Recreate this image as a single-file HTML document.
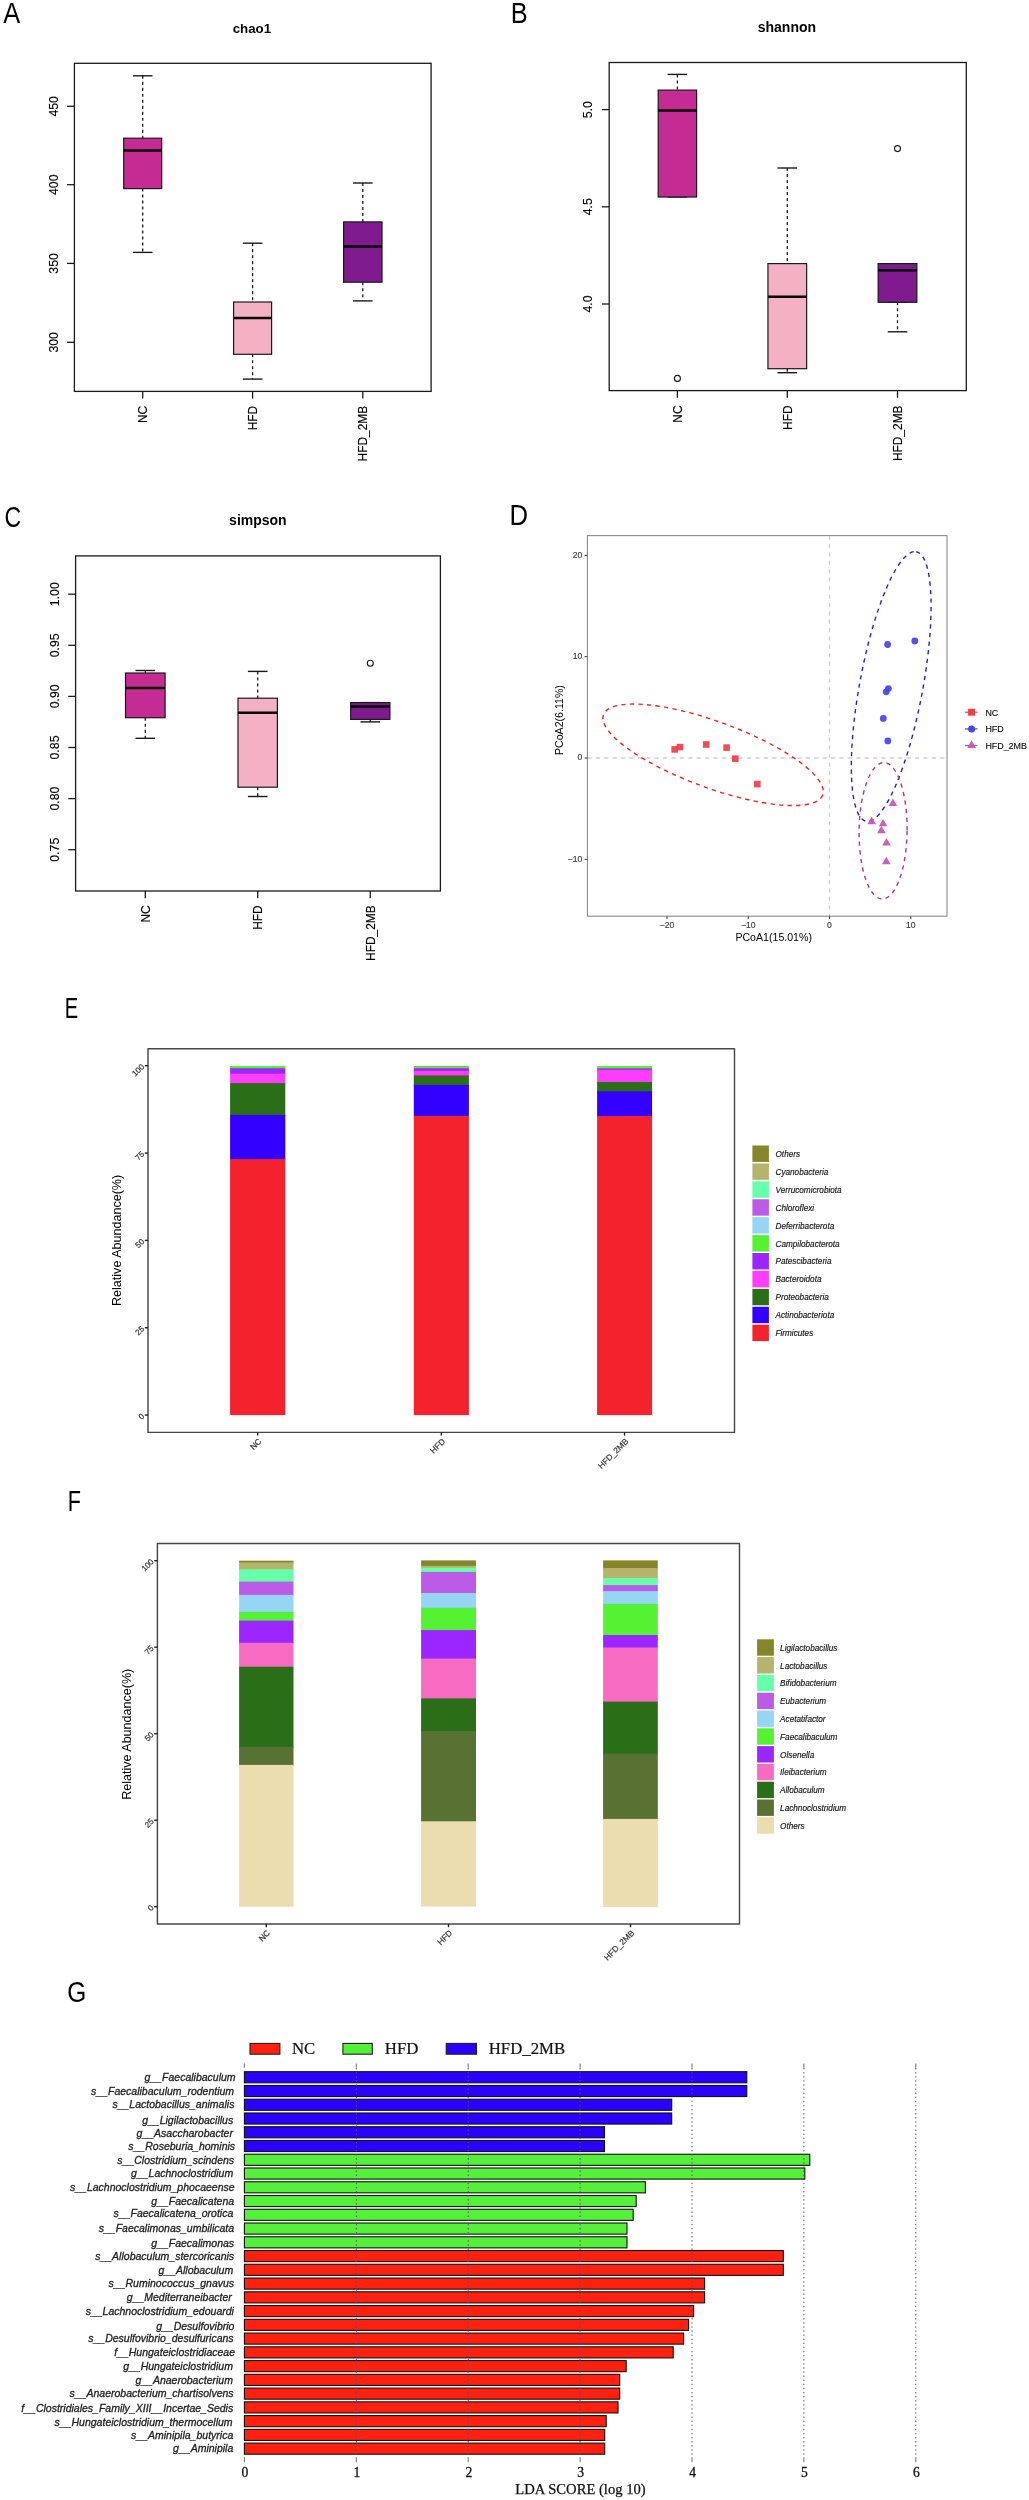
<!DOCTYPE html>
<html><head><meta charset="utf-8"><title>Figure</title><style>
html,body{margin:0;padding:0;background:#fff;width:1029px;height:2500px;overflow:hidden;}
svg{display:block;will-change:transform;}
text{font-family:"Liberation Sans",sans-serif;}
</style></head><body>
<svg width="1029" height="2500" viewBox="0 0 1029 2500">
<rect x="0" y="0" width="1029" height="2500" fill="#fff"/>
<text transform="translate(3.2 22.6) scale(0.88 1)" x="0" y="0" style="font-size:28.8px">A</text>
<text transform="translate(510.64 22.6) scale(0.88 1)" x="0" y="0" style="font-size:28.8px">B</text>
<text transform="translate(4.4 526.6) scale(0.8 1)" x="0" y="0" style="font-size:28.8px">C</text>
<text transform="translate(509.62 525) scale(0.89 1)" x="0" y="0" style="font-size:28.8px">D</text>
<text transform="translate(64.8 1017.9) scale(0.7 1)" x="0" y="0" style="font-size:28.8px">E</text>
<text transform="translate(67.8 1511.1) scale(0.75 1)" x="0" y="0" style="font-size:28.8px">F</text>
<text transform="translate(67.25 2001.8) scale(0.85 1)" x="0" y="0" style="font-size:28.8px">G</text>
<text x="251.9" y="32.9"  text-anchor="middle" style="font-size:13.3px;font-weight:bold">chao1</text>
<rect x="74.4" y="63.3" width="356.7" height="328.1" fill="none" stroke="#1a1a1a" stroke-width="1.3"/>
<line x1="67.1" y1="106.3" x2="74.4" y2="106.3" stroke="#1a1a1a" stroke-width="1.3"/>
<text x="0" y="0" transform="translate(57.9 106.3) rotate(-90)" text-anchor="middle" style="font-size:12.3px" stroke="#000" stroke-width="0.15">450</text>
<line x1="67.1" y1="184.7" x2="74.4" y2="184.7" stroke="#1a1a1a" stroke-width="1.3"/>
<text x="0" y="0" transform="translate(57.9 184.7) rotate(-90)" text-anchor="middle" style="font-size:12.3px" stroke="#000" stroke-width="0.15">400</text>
<line x1="67.1" y1="263.4" x2="74.4" y2="263.4" stroke="#1a1a1a" stroke-width="1.3"/>
<text x="0" y="0" transform="translate(57.9 263.4) rotate(-90)" text-anchor="middle" style="font-size:12.3px" stroke="#000" stroke-width="0.15">350</text>
<line x1="67.1" y1="342.3" x2="74.4" y2="342.3" stroke="#1a1a1a" stroke-width="1.3"/>
<text x="0" y="0" transform="translate(57.9 342.3) rotate(-90)" text-anchor="middle" style="font-size:12.3px" stroke="#000" stroke-width="0.15">300</text>
<line x1="142.7" y1="391.4" x2="142.7" y2="398.6" stroke="#1a1a1a" stroke-width="1.3"/>
<text transform="translate(142.7 405.9) rotate(-90)" x="0" y="4.3" text-anchor="end" stroke="#000" stroke-width="0.15" style="font-size:11.9px">NC</text>
<line x1="252.6" y1="391.4" x2="252.6" y2="398.6" stroke="#1a1a1a" stroke-width="1.3"/>
<text transform="translate(252.6 405.9) rotate(-90)" x="0" y="4.3" text-anchor="end" stroke="#000" stroke-width="0.15" style="font-size:11.9px">HFD</text>
<line x1="362.8" y1="391.4" x2="362.8" y2="398.6" stroke="#1a1a1a" stroke-width="1.3"/>
<text transform="translate(362.8 405.9) rotate(-90)" x="0" y="4.3" text-anchor="end" stroke="#000" stroke-width="0.15" style="font-size:11.9px">HFD_2MB</text>
<line x1="142.7" y1="75.8" x2="142.7" y2="138.2" stroke="#1a1a1a" stroke-width="1.3" stroke-dasharray="3 3"/>
<line x1="142.7" y1="188.6" x2="142.7" y2="252.4" stroke="#1a1a1a" stroke-width="1.3" stroke-dasharray="3 3"/>
<line x1="132.9" y1="75.8" x2="152.5" y2="75.8" stroke="#1a1a1a" stroke-width="1.4"/>
<line x1="132.9" y1="252.4" x2="152.5" y2="252.4" stroke="#1a1a1a" stroke-width="1.4"/>
<rect x="123.7" y="138.2" width="38" height="50.4" fill="#C52C93" stroke="#1a1a1a" stroke-width="1.2"/>
<line x1="123.7" y1="150.4" x2="161.7" y2="150.4" stroke="#000" stroke-width="2.5"/>
<line x1="252.6" y1="243.2" x2="252.6" y2="302" stroke="#1a1a1a" stroke-width="1.3" stroke-dasharray="3 3"/>
<line x1="252.6" y1="354.3" x2="252.6" y2="379.1" stroke="#1a1a1a" stroke-width="1.3" stroke-dasharray="3 3"/>
<line x1="242.8" y1="243.2" x2="262.4" y2="243.2" stroke="#1a1a1a" stroke-width="1.4"/>
<line x1="242.8" y1="379.1" x2="262.4" y2="379.1" stroke="#1a1a1a" stroke-width="1.4"/>
<rect x="233.6" y="302" width="38" height="52.3" fill="#F4B1C3" stroke="#1a1a1a" stroke-width="1.2"/>
<line x1="233.6" y1="318.1" x2="271.6" y2="318.1" stroke="#000" stroke-width="2.5"/>
<line x1="362.8" y1="183" x2="362.8" y2="221.9" stroke="#1a1a1a" stroke-width="1.3" stroke-dasharray="3 3"/>
<line x1="362.8" y1="282.2" x2="362.8" y2="300.9" stroke="#1a1a1a" stroke-width="1.3" stroke-dasharray="3 3"/>
<line x1="353" y1="183" x2="372.6" y2="183" stroke="#1a1a1a" stroke-width="1.4"/>
<line x1="353" y1="300.9" x2="372.6" y2="300.9" stroke="#1a1a1a" stroke-width="1.4"/>
<rect x="343.6" y="221.9" width="38.4" height="60.3" fill="#7F1B8F" stroke="#1a1a1a" stroke-width="1.2"/>
<line x1="343.6" y1="246.6" x2="382" y2="246.6" stroke="#000" stroke-width="2.5"/>
<text x="786.9" y="32.1"  text-anchor="middle" style="font-size:14px;font-weight:bold">shannon</text>
<rect x="609.2" y="62.5" width="357.1" height="328.1" fill="none" stroke="#1a1a1a" stroke-width="1.3"/>
<line x1="601.9" y1="109.6" x2="609.2" y2="109.6" stroke="#1a1a1a" stroke-width="1.3"/>
<text x="0" y="0" transform="translate(592.3 109.6) rotate(-90)" text-anchor="middle" style="font-size:12.3px" stroke="#000" stroke-width="0.15">5.0</text>
<line x1="601.9" y1="206.8" x2="609.2" y2="206.8" stroke="#1a1a1a" stroke-width="1.3"/>
<text x="0" y="0" transform="translate(592.3 206.8) rotate(-90)" text-anchor="middle" style="font-size:12.3px" stroke="#000" stroke-width="0.15">4.5</text>
<line x1="601.9" y1="304" x2="609.2" y2="304" stroke="#1a1a1a" stroke-width="1.3"/>
<text x="0" y="0" transform="translate(592.3 304) rotate(-90)" text-anchor="middle" style="font-size:12.3px" stroke="#000" stroke-width="0.15">4.0</text>
<line x1="677.4" y1="390.6" x2="677.4" y2="397.8" stroke="#1a1a1a" stroke-width="1.3"/>
<text transform="translate(677.4 405.5) rotate(-90)" x="0" y="4.3" text-anchor="end" stroke="#000" stroke-width="0.15" style="font-size:11.9px">NC</text>
<line x1="787.3" y1="390.6" x2="787.3" y2="397.8" stroke="#1a1a1a" stroke-width="1.3"/>
<text transform="translate(787.3 405.5) rotate(-90)" x="0" y="4.3" text-anchor="end" stroke="#000" stroke-width="0.15" style="font-size:11.9px">HFD</text>
<line x1="897.5" y1="390.6" x2="897.5" y2="397.8" stroke="#1a1a1a" stroke-width="1.3"/>
<text transform="translate(897.5 405.5) rotate(-90)" x="0" y="4.3" text-anchor="end" stroke="#000" stroke-width="0.15" style="font-size:11.9px">HFD_2MB</text>
<line x1="677.4" y1="74.4" x2="677.4" y2="90.1" stroke="#1a1a1a" stroke-width="1.3" stroke-dasharray="3 3"/>
<line x1="667.6" y1="74.4" x2="687.2" y2="74.4" stroke="#1a1a1a" stroke-width="1.4"/>
<line x1="667.6" y1="197" x2="687.2" y2="197" stroke="#1a1a1a" stroke-width="1.4"/>
<rect x="658.2" y="90.1" width="38.4" height="106.9" fill="#C52C93" stroke="#1a1a1a" stroke-width="1.2"/>
<line x1="658.2" y1="110.4" x2="696.6" y2="110.4" stroke="#000" stroke-width="2.5"/>
<line x1="787.3" y1="168" x2="787.3" y2="263.6" stroke="#1a1a1a" stroke-width="1.3" stroke-dasharray="3 3"/>
<line x1="787.3" y1="368.7" x2="787.3" y2="372.7" stroke="#1a1a1a" stroke-width="1.3" stroke-dasharray="3 3"/>
<line x1="777.5" y1="168" x2="797.1" y2="168" stroke="#1a1a1a" stroke-width="1.4"/>
<line x1="777.5" y1="372.7" x2="797.1" y2="372.7" stroke="#1a1a1a" stroke-width="1.4"/>
<rect x="767.95" y="263.6" width="38.7" height="105.1" fill="#F4B1C3" stroke="#1a1a1a" stroke-width="1.2"/>
<line x1="767.95" y1="296.7" x2="806.65" y2="296.7" stroke="#000" stroke-width="2.5"/>
<line x1="897.5" y1="302.3" x2="897.5" y2="331.8" stroke="#1a1a1a" stroke-width="1.3" stroke-dasharray="3 3"/>
<line x1="887.7" y1="302.3" x2="907.3" y2="302.3" stroke="#1a1a1a" stroke-width="1.4"/>
<line x1="887.7" y1="331.8" x2="907.3" y2="331.8" stroke="#1a1a1a" stroke-width="1.4"/>
<rect x="878.15" y="263.6" width="38.7" height="38.7" fill="#7F1B8F" stroke="#1a1a1a" stroke-width="1.2"/>
<line x1="878.15" y1="270.3" x2="916.85" y2="270.3" stroke="#000" stroke-width="2.5"/>
<circle cx="677.4" cy="378.4" r="3" fill="none" stroke="#1a1a1a" stroke-width="1.1"/>
<circle cx="897.5" cy="148.6" r="3" fill="none" stroke="#1a1a1a" stroke-width="1.1"/>
<text x="257.9" y="524.5"  text-anchor="middle" style="font-size:14px;font-weight:bold">simpson</text>
<rect x="75.6" y="555.9" width="364.8" height="335.1" fill="none" stroke="#1a1a1a" stroke-width="1.3"/>
<line x1="68.3" y1="594.2" x2="75.6" y2="594.2" stroke="#1a1a1a" stroke-width="1.3"/>
<text x="0" y="0" transform="translate(59.2 594.2) rotate(-90)" text-anchor="middle" style="font-size:12.3px" stroke="#000" stroke-width="0.15">1.00</text>
<line x1="68.3" y1="645.3" x2="75.6" y2="645.3" stroke="#1a1a1a" stroke-width="1.3"/>
<text x="0" y="0" transform="translate(59.2 645.3) rotate(-90)" text-anchor="middle" style="font-size:12.3px" stroke="#000" stroke-width="0.15">0.95</text>
<line x1="68.3" y1="696.4" x2="75.6" y2="696.4" stroke="#1a1a1a" stroke-width="1.3"/>
<text x="0" y="0" transform="translate(59.2 696.4) rotate(-90)" text-anchor="middle" style="font-size:12.3px" stroke="#000" stroke-width="0.15">0.90</text>
<line x1="68.3" y1="747.5" x2="75.6" y2="747.5" stroke="#1a1a1a" stroke-width="1.3"/>
<text x="0" y="0" transform="translate(59.2 747.5) rotate(-90)" text-anchor="middle" style="font-size:12.3px" stroke="#000" stroke-width="0.15">0.85</text>
<line x1="68.3" y1="798.6" x2="75.6" y2="798.6" stroke="#1a1a1a" stroke-width="1.3"/>
<text x="0" y="0" transform="translate(59.2 798.6) rotate(-90)" text-anchor="middle" style="font-size:12.3px" stroke="#000" stroke-width="0.15">0.80</text>
<line x1="68.3" y1="849.7" x2="75.6" y2="849.7" stroke="#1a1a1a" stroke-width="1.3"/>
<text x="0" y="0" transform="translate(59.2 849.7) rotate(-90)" text-anchor="middle" style="font-size:12.3px" stroke="#000" stroke-width="0.15">0.75</text>
<line x1="145.3" y1="891" x2="145.3" y2="898.2" stroke="#1a1a1a" stroke-width="1.3"/>
<text transform="translate(145.3 905.4) rotate(-90)" x="0" y="4.3" text-anchor="end" stroke="#000" stroke-width="0.15" style="font-size:11.9px">NC</text>
<line x1="257.7" y1="891" x2="257.7" y2="898.2" stroke="#1a1a1a" stroke-width="1.3"/>
<text transform="translate(257.7 905.4) rotate(-90)" x="0" y="4.3" text-anchor="end" stroke="#000" stroke-width="0.15" style="font-size:11.9px">HFD</text>
<line x1="370.3" y1="891" x2="370.3" y2="898.2" stroke="#1a1a1a" stroke-width="1.3"/>
<text transform="translate(370.3 905.4) rotate(-90)" x="0" y="4.3" text-anchor="end" stroke="#000" stroke-width="0.15" style="font-size:11.9px">HFD_2MB</text>
<line x1="145.3" y1="670.5" x2="145.3" y2="673" stroke="#1a1a1a" stroke-width="1.3" stroke-dasharray="3 3"/>
<line x1="145.3" y1="717.7" x2="145.3" y2="738.3" stroke="#1a1a1a" stroke-width="1.3" stroke-dasharray="3 3"/>
<line x1="135.5" y1="670.5" x2="155.1" y2="670.5" stroke="#1a1a1a" stroke-width="1.4"/>
<line x1="135.5" y1="738.3" x2="155.1" y2="738.3" stroke="#1a1a1a" stroke-width="1.4"/>
<rect x="125.5" y="673" width="39.6" height="44.7" fill="#C52C93" stroke="#1a1a1a" stroke-width="1.2"/>
<line x1="125.5" y1="687.9" x2="165.1" y2="687.9" stroke="#000" stroke-width="2.5"/>
<line x1="257.7" y1="671.4" x2="257.7" y2="698.2" stroke="#1a1a1a" stroke-width="1.3" stroke-dasharray="3 3"/>
<line x1="257.7" y1="787.2" x2="257.7" y2="796.5" stroke="#1a1a1a" stroke-width="1.3" stroke-dasharray="3 3"/>
<line x1="247.9" y1="671.4" x2="267.5" y2="671.4" stroke="#1a1a1a" stroke-width="1.4"/>
<line x1="247.9" y1="796.5" x2="267.5" y2="796.5" stroke="#1a1a1a" stroke-width="1.4"/>
<rect x="238" y="698.2" width="39.4" height="89" fill="#F4B1C3" stroke="#1a1a1a" stroke-width="1.2"/>
<line x1="238" y1="712.7" x2="277.4" y2="712.7" stroke="#000" stroke-width="2.5"/>
<line x1="370.3" y1="719.4" x2="370.3" y2="721.9" stroke="#1a1a1a" stroke-width="1.3" stroke-dasharray="3 3"/>
<line x1="360.5" y1="702.6" x2="380.1" y2="702.6" stroke="#1a1a1a" stroke-width="1.4"/>
<line x1="360.5" y1="721.9" x2="380.1" y2="721.9" stroke="#1a1a1a" stroke-width="1.4"/>
<rect x="350.7" y="702.6" width="39.2" height="16.8" fill="#7F1B8F" stroke="#1a1a1a" stroke-width="1.2"/>
<line x1="350.7" y1="706.4" x2="389.9" y2="706.4" stroke="#000" stroke-width="2.5"/>
<circle cx="370.3" cy="663.3" r="3" fill="none" stroke="#1a1a1a" stroke-width="1.1"/>
<rect x="587.4" y="535.6" width="359.6" height="380.6" fill="#fff"/>
<line x1="587.4" y1="758" x2="947" y2="758" stroke="#cfcfcf" stroke-width="1.3" stroke-dasharray="4.2 4.2"/>
<line x1="829.5" y1="535.6" x2="829.5" y2="916.2" stroke="#cfcfcf" stroke-width="1.3" stroke-dasharray="4.2 4.2"/>
<ellipse cx="713.1" cy="754.8" rx="116.7" ry="33.1" transform="rotate(20.1 713.1 754.8)" fill="none" stroke="#F21E1E" stroke-width="1.4" stroke-dasharray="4.3 4.3"/>
<ellipse cx="891.2" cy="686.5" rx="137.1" ry="31.6" transform="rotate(-79.5 891.2 686.5)" fill="none" stroke="#1E1EF2" stroke-width="1.4" stroke-dasharray="4.3 4.3"/>
<ellipse cx="883.1" cy="830.8" rx="24.0" ry="68.2" transform="rotate(0.7 883.1 830.8)" fill="none" stroke="#B8308F" stroke-width="1.4" stroke-dasharray="4.3 4.3"/>
<rect x="671.4" y="746.1" width="6.6" height="6.6" fill="#F03C44" fill-opacity="0.92"/>
<rect x="676.7" y="743.8" width="6.6" height="6.6" fill="#F03C44" fill-opacity="0.92"/>
<rect x="702.9" y="741.2" width="6.6" height="6.6" fill="#F03C44" fill-opacity="0.92"/>
<rect x="723.3" y="744.3" width="6.6" height="6.6" fill="#F03C44" fill-opacity="0.92"/>
<rect x="732" y="755.4" width="6.6" height="6.6" fill="#F03C44" fill-opacity="0.92"/>
<rect x="754" y="780.8" width="6.6" height="6.6" fill="#F03C44" fill-opacity="0.92"/>
<circle cx="887.6" cy="644.5" r="3.4" fill="#4343F0" fill-opacity="0.92"/>
<circle cx="914.8" cy="641" r="3.4" fill="#4343F0" fill-opacity="0.92"/>
<circle cx="888.4" cy="688.6" r="3.4" fill="#4343F0" fill-opacity="0.92"/>
<circle cx="886.2" cy="691.8" r="3.4" fill="#4343F0" fill-opacity="0.92"/>
<circle cx="883.3" cy="718.4" r="3.4" fill="#4343F0" fill-opacity="0.92"/>
<circle cx="887.8" cy="740.9" r="3.4" fill="#4343F0" fill-opacity="0.92"/>
<path d="M892.9 798.58L897.2 806.03L888.6 806.03Z" fill="#CC4FB5" fill-opacity="0.92"/>
<path d="M871.7 816.68L876 824.13L867.4 824.13Z" fill="#CC4FB5" fill-opacity="0.92"/>
<path d="M883.1 818.88L887.4 826.33L878.8 826.33Z" fill="#CC4FB5" fill-opacity="0.92"/>
<path d="M881.4 825.78L885.7 833.23L877.1 833.23Z" fill="#CC4FB5" fill-opacity="0.92"/>
<path d="M886.5 838.08L890.8 845.53L882.2 845.53Z" fill="#CC4FB5" fill-opacity="0.92"/>
<path d="M886.3 856.78L890.6 864.23L882 864.23Z" fill="#CC4FB5" fill-opacity="0.92"/>
<rect x="587.4" y="535.6" width="359.6" height="380.6" fill="none" stroke="#8a8a8a" stroke-width="1.1"/>
<line x1="667" y1="916.2" x2="667" y2="919" stroke="#333" stroke-width="1"/>
<text x="667" y="927.5"  text-anchor="middle" fill="#3a3a3a" style="font-size:8.6px" stroke="#3a3a3a" stroke-width="0.15">−20</text>
<line x1="748.25" y1="916.2" x2="748.25" y2="919" stroke="#333" stroke-width="1"/>
<text x="748.25" y="927.5"  text-anchor="middle" fill="#3a3a3a" style="font-size:8.6px" stroke="#3a3a3a" stroke-width="0.15">−10</text>
<line x1="829.5" y1="916.2" x2="829.5" y2="919" stroke="#333" stroke-width="1"/>
<text x="829.5" y="927.5"  text-anchor="middle" fill="#3a3a3a" style="font-size:8.6px" stroke="#3a3a3a" stroke-width="0.15">0</text>
<line x1="910.75" y1="916.2" x2="910.75" y2="919" stroke="#333" stroke-width="1"/>
<text x="910.75" y="927.5"  text-anchor="middle" fill="#3a3a3a" style="font-size:8.6px" stroke="#3a3a3a" stroke-width="0.15">10</text>
<line x1="584.6" y1="555.4" x2="587.4" y2="555.4" stroke="#333" stroke-width="1"/>
<text x="582.2" y="557.8"  text-anchor="end" fill="#3a3a3a" style="font-size:8.6px" stroke="#3a3a3a" stroke-width="0.15">20</text>
<line x1="584.6" y1="656.7" x2="587.4" y2="656.7" stroke="#333" stroke-width="1"/>
<text x="582.2" y="659.1"  text-anchor="end" fill="#3a3a3a" style="font-size:8.6px" stroke="#3a3a3a" stroke-width="0.15">10</text>
<line x1="584.6" y1="758" x2="587.4" y2="758" stroke="#333" stroke-width="1"/>
<text x="582.2" y="760.4"  text-anchor="end" fill="#3a3a3a" style="font-size:8.6px" stroke="#3a3a3a" stroke-width="0.15">0</text>
<line x1="584.6" y1="859.3" x2="587.4" y2="859.3" stroke="#333" stroke-width="1"/>
<text x="582.2" y="861.7"  text-anchor="end" fill="#3a3a3a" style="font-size:8.6px" stroke="#3a3a3a" stroke-width="0.15">−10</text>
<text x="773.7" y="941"  text-anchor="middle" style="font-size:10.6px">PCoA1(15.01%)</text>
<text transform="translate(562.9 720.1) rotate(-90)" x="0" y="0" text-anchor="middle" style="font-size:10.6px">PCoA2(6.11%)</text>
<line x1="964.9" y1="712.2" x2="977.4" y2="712.2" stroke="#F03C44" stroke-width="1.2"/>
<rect x="968.1" y="708.8" width="6.9" height="6.9" fill="#F03C44"/>
<line x1="964.9" y1="728.9" x2="977.4" y2="728.9" stroke="#4343F0" stroke-width="1.2"/>
<circle cx="971.6" cy="728.9" r="3.5" fill="#4343F0"/>
<line x1="964.9" y1="745.6" x2="977.4" y2="745.6" stroke="#CC4FB5" stroke-width="1.2"/>
<path d="M971.6 740.28L976 747.9L967.2 747.9Z" fill="#CC4FB5" fill-opacity="0.92"/>
<text x="985.4" y="715.6"  fill="#111" style="font-size:8.9px" stroke="#111" stroke-width="0.15">NC</text>
<text x="985.4" y="732.3"  fill="#111" style="font-size:8.9px" stroke="#111" stroke-width="0.15">HFD</text>
<text x="985.4" y="749"  fill="#111" style="font-size:8.9px" stroke="#111" stroke-width="0.15">HFD_2MB</text>
<rect x="148" y="1048.7" width="586.5" height="383.7" fill="none" stroke="#484848" stroke-width="1.45" stroke-linejoin="round"/>
<line x1="144.8" y1="1415.1" x2="148" y2="1415.1" stroke="#222" stroke-width="1.4"/>
<text transform="translate(144.9 1416.7) rotate(-45)" x="0" y="0" text-anchor="end" fill="#333" stroke="#333" stroke-width="0.2" style="font-size:8.1px">0</text>
<line x1="144.8" y1="1327.75" x2="148" y2="1327.75" stroke="#222" stroke-width="1.4"/>
<text transform="translate(144.9 1329.35) rotate(-45)" x="0" y="0" text-anchor="end" fill="#333" stroke="#333" stroke-width="0.2" style="font-size:8.1px">25</text>
<line x1="144.8" y1="1240.4" x2="148" y2="1240.4" stroke="#222" stroke-width="1.4"/>
<text transform="translate(144.9 1242) rotate(-45)" x="0" y="0" text-anchor="end" fill="#333" stroke="#333" stroke-width="0.2" style="font-size:8.1px">50</text>
<line x1="144.8" y1="1153.05" x2="148" y2="1153.05" stroke="#222" stroke-width="1.4"/>
<text transform="translate(144.9 1154.65) rotate(-45)" x="0" y="0" text-anchor="end" fill="#333" stroke="#333" stroke-width="0.2" style="font-size:8.1px">75</text>
<line x1="144.8" y1="1065.7" x2="148" y2="1065.7" stroke="#222" stroke-width="1.4"/>
<text transform="translate(144.9 1067.3) rotate(-45)" x="0" y="0" text-anchor="end" fill="#333" stroke="#333" stroke-width="0.2" style="font-size:8.1px">100</text>
<rect x="230.1" y="1065.9" width="55.2" height="3.3" fill="#55F233"/>
<rect x="230.1" y="1068.2" width="55.2" height="6.5" fill="#9B26FF"/>
<rect x="230.1" y="1073.7" width="55.2" height="10.4" fill="#FF3DFF"/>
<rect x="230.1" y="1083.1" width="55.2" height="32.8" fill="#2A6F18"/>
<rect x="230.1" y="1114.9" width="55.2" height="45.2" fill="#3300FF"/>
<rect x="230.1" y="1159.1" width="55.2" height="256" fill="#F3222D"/>
<rect x="413.8" y="1065.9" width="55.1" height="1.7" fill="#8a9a6a"/>
<rect x="413.8" y="1066.6" width="55.1" height="2.6" fill="#55F233"/>
<rect x="413.8" y="1068.2" width="55.1" height="3.7" fill="#9B26FF"/>
<rect x="413.8" y="1070.9" width="55.1" height="5.5" fill="#FF3DFF"/>
<rect x="413.8" y="1075.4" width="55.1" height="10.5" fill="#2A6F18"/>
<rect x="413.8" y="1084.9" width="55.1" height="32" fill="#3300FF"/>
<rect x="413.8" y="1115.9" width="55.1" height="299.2" fill="#F3222D"/>
<rect x="597.1" y="1066" width="55" height="3.4" fill="#55F233"/>
<rect x="597.1" y="1068.4" width="55" height="2.4" fill="#9B26FF"/>
<rect x="597.1" y="1069.8" width="55" height="13.2" fill="#FF3DFF"/>
<rect x="597.1" y="1082" width="55" height="10.3" fill="#2A6F18"/>
<rect x="597.1" y="1091.3" width="55" height="25.7" fill="#3300FF"/>
<rect x="597.1" y="1116" width="55" height="299.1" fill="#F3222D"/>
<line x1="257.7" y1="1432.4" x2="257.7" y2="1435.6" stroke="#222" stroke-width="1.4"/>
<text transform="translate(262 1441.9) rotate(-45)" x="0" y="0" text-anchor="end" fill="#333" stroke="#333" stroke-width="0.2" style="font-size:8.3px">NC</text>
<line x1="441.35" y1="1432.4" x2="441.35" y2="1435.6" stroke="#222" stroke-width="1.4"/>
<text transform="translate(445.65 1441.9) rotate(-45)" x="0" y="0" text-anchor="end" fill="#333" stroke="#333" stroke-width="0.2" style="font-size:8.3px">HFD</text>
<line x1="624.6" y1="1432.4" x2="624.6" y2="1435.6" stroke="#222" stroke-width="1.4"/>
<text transform="translate(628.9 1441.9) rotate(-45)" x="0" y="0" text-anchor="end" fill="#333" stroke="#333" stroke-width="0.2" style="font-size:8.3px">HFD_2MB</text>
<text transform="translate(121.4 1240.4) rotate(-90)" x="0" y="0" text-anchor="middle" style="font-size:12.55px">Relative Abundance(%)</text>
<rect x="752.4" y="1145.5" width="16.5" height="16.4" fill="#85852A"/>
<text x="775.5" y="1156.9"  fill="#1a1a1a" style="font-size:8.2px;font-style:italic" stroke="#1a1a1a" stroke-width="0.18">Others</text>
<rect x="752.4" y="1163.42" width="16.5" height="16.4" fill="#B6B46B"/>
<text x="775.5" y="1174.82"  fill="#1a1a1a" style="font-size:8.2px;font-style:italic" stroke="#1a1a1a" stroke-width="0.18">Cyanobacteria</text>
<rect x="752.4" y="1181.34" width="16.5" height="16.4" fill="#66FFAA"/>
<text x="775.5" y="1192.74"  fill="#1a1a1a" style="font-size:8.2px;font-style:italic" stroke="#1a1a1a" stroke-width="0.18">Verrucomicrobiota</text>
<rect x="752.4" y="1199.26" width="16.5" height="16.4" fill="#BB5BE8"/>
<text x="775.5" y="1210.66"  fill="#1a1a1a" style="font-size:8.2px;font-style:italic" stroke="#1a1a1a" stroke-width="0.18">Chloroflexi</text>
<rect x="752.4" y="1217.18" width="16.5" height="16.4" fill="#96D6F4"/>
<text x="775.5" y="1228.58"  fill="#1a1a1a" style="font-size:8.2px;font-style:italic" stroke="#1a1a1a" stroke-width="0.18">Deferribacterota</text>
<rect x="752.4" y="1235.1" width="16.5" height="16.4" fill="#55F233"/>
<text x="775.5" y="1246.5"  fill="#1a1a1a" style="font-size:8.2px;font-style:italic" stroke="#1a1a1a" stroke-width="0.18">Campilobacterota</text>
<rect x="752.4" y="1253.02" width="16.5" height="16.4" fill="#9B26FF"/>
<text x="775.5" y="1264.42"  fill="#1a1a1a" style="font-size:8.2px;font-style:italic" stroke="#1a1a1a" stroke-width="0.18">Patescibacteria</text>
<rect x="752.4" y="1270.94" width="16.5" height="16.4" fill="#FF3DFF"/>
<text x="775.5" y="1282.34"  fill="#1a1a1a" style="font-size:8.2px;font-style:italic" stroke="#1a1a1a" stroke-width="0.18">Bacteroidota</text>
<rect x="752.4" y="1288.86" width="16.5" height="16.4" fill="#2A6F18"/>
<text x="775.5" y="1300.26"  fill="#1a1a1a" style="font-size:8.2px;font-style:italic" stroke="#1a1a1a" stroke-width="0.18">Proteobacteria</text>
<rect x="752.4" y="1306.78" width="16.5" height="16.4" fill="#3300FF"/>
<text x="775.5" y="1318.18"  fill="#1a1a1a" style="font-size:8.2px;font-style:italic" stroke="#1a1a1a" stroke-width="0.18">Actinobacteriota</text>
<rect x="752.4" y="1324.7" width="16.5" height="16.4" fill="#F3222D"/>
<text x="775.5" y="1336.1"  fill="#1a1a1a" style="font-size:8.2px;font-style:italic" stroke="#1a1a1a" stroke-width="0.18">Firmicutes</text>
<rect x="157.4" y="1543.5" width="582.1" height="380.5" fill="none" stroke="#484848" stroke-width="1.45" stroke-linejoin="round"/>
<line x1="154.2" y1="1906.7" x2="157.4" y2="1906.7" stroke="#222" stroke-width="1.4"/>
<text transform="translate(154.3 1908.3) rotate(-45)" x="0" y="0" text-anchor="end" fill="#333" stroke="#333" stroke-width="0.2" style="font-size:8.1px">0</text>
<line x1="154.2" y1="1820.2" x2="157.4" y2="1820.2" stroke="#222" stroke-width="1.4"/>
<text transform="translate(154.3 1821.8) rotate(-45)" x="0" y="0" text-anchor="end" fill="#333" stroke="#333" stroke-width="0.2" style="font-size:8.1px">25</text>
<line x1="154.2" y1="1733.7" x2="157.4" y2="1733.7" stroke="#222" stroke-width="1.4"/>
<text transform="translate(154.3 1735.3) rotate(-45)" x="0" y="0" text-anchor="end" fill="#333" stroke="#333" stroke-width="0.2" style="font-size:8.1px">50</text>
<line x1="154.2" y1="1647.2" x2="157.4" y2="1647.2" stroke="#222" stroke-width="1.4"/>
<text transform="translate(154.3 1648.8) rotate(-45)" x="0" y="0" text-anchor="end" fill="#333" stroke="#333" stroke-width="0.2" style="font-size:8.1px">75</text>
<line x1="154.2" y1="1560.7" x2="157.4" y2="1560.7" stroke="#222" stroke-width="1.4"/>
<text transform="translate(154.3 1562.3) rotate(-45)" x="0" y="0" text-anchor="end" fill="#333" stroke="#333" stroke-width="0.2" style="font-size:8.1px">100</text>
<rect x="239.1" y="1560.7" width="54.4" height="2.7" fill="#85852A"/>
<rect x="239.1" y="1562.4" width="54.4" height="7.8" fill="#B6B46B"/>
<rect x="239.1" y="1569.2" width="54.4" height="13.4" fill="#66FFAA"/>
<rect x="239.1" y="1581.6" width="54.4" height="14.3" fill="#BB5BE8"/>
<rect x="239.1" y="1594.9" width="54.4" height="18" fill="#96D6F4"/>
<rect x="239.1" y="1611.9" width="54.4" height="9.7" fill="#55F233"/>
<rect x="239.1" y="1620.6" width="54.4" height="23.2" fill="#9B26FF"/>
<rect x="239.1" y="1642.8" width="54.4" height="24.9" fill="#F76BC3"/>
<rect x="239.1" y="1666.7" width="54.4" height="81" fill="#2A6F18"/>
<rect x="239.1" y="1746.7" width="54.4" height="19.2" fill="#577233"/>
<rect x="239.1" y="1764.9" width="54.4" height="141.8" fill="#EBDDB0"/>
<rect x="421.1" y="1560.4" width="54.9" height="6.4" fill="#85852A"/>
<rect x="421.1" y="1565.8" width="54.9" height="2.9" fill="#B6B46B"/>
<rect x="421.1" y="1567.7" width="54.9" height="5.2" fill="#66FFAA"/>
<rect x="421.1" y="1571.9" width="54.9" height="22.1" fill="#BB5BE8"/>
<rect x="421.1" y="1593" width="54.9" height="15.8" fill="#96D6F4"/>
<rect x="421.1" y="1607.8" width="54.9" height="23.3" fill="#55F233"/>
<rect x="421.1" y="1630.1" width="54.9" height="29.5" fill="#9B26FF"/>
<rect x="421.1" y="1658.6" width="54.9" height="40.8" fill="#F76BC3"/>
<rect x="421.1" y="1698.4" width="54.9" height="33.5" fill="#2A6F18"/>
<rect x="421.1" y="1730.9" width="54.9" height="91.4" fill="#577233"/>
<rect x="421.1" y="1821.3" width="54.9" height="85.3" fill="#EBDDB0"/>
<rect x="603.1" y="1560.4" width="54.7" height="8.6" fill="#85852A"/>
<rect x="603.1" y="1568" width="54.7" height="11" fill="#B6B46B"/>
<rect x="603.1" y="1578" width="54.7" height="8.1" fill="#66FFAA"/>
<rect x="603.1" y="1585.1" width="54.7" height="7" fill="#BB5BE8"/>
<rect x="603.1" y="1591.1" width="54.7" height="13.8" fill="#96D6F4"/>
<rect x="603.1" y="1603.9" width="54.7" height="32.1" fill="#55F233"/>
<rect x="603.1" y="1635" width="54.7" height="13.5" fill="#9B26FF"/>
<rect x="603.1" y="1647.5" width="54.7" height="55.1" fill="#F76BC3"/>
<rect x="603.1" y="1701.6" width="54.7" height="53" fill="#2A6F18"/>
<rect x="603.1" y="1753.6" width="54.7" height="66.3" fill="#577233"/>
<rect x="603.1" y="1818.9" width="54.7" height="88.1" fill="#EBDDB0"/>
<line x1="266.3" y1="1924" x2="266.3" y2="1927.2" stroke="#222" stroke-width="1.4"/>
<text transform="translate(270.6 1933.5) rotate(-45)" x="0" y="0" text-anchor="end" fill="#333" stroke="#333" stroke-width="0.2" style="font-size:8.3px">NC</text>
<line x1="448.5" y1="1924" x2="448.5" y2="1927.2" stroke="#222" stroke-width="1.4"/>
<text transform="translate(452.8 1933.5) rotate(-45)" x="0" y="0" text-anchor="end" fill="#333" stroke="#333" stroke-width="0.2" style="font-size:8.3px">HFD</text>
<line x1="630.5" y1="1924" x2="630.5" y2="1927.2" stroke="#222" stroke-width="1.4"/>
<text transform="translate(634.8 1933.5) rotate(-45)" x="0" y="0" text-anchor="end" fill="#333" stroke="#333" stroke-width="0.2" style="font-size:8.3px">HFD_2MB</text>
<text transform="translate(131 1734.3) rotate(-90)" x="0" y="0" text-anchor="middle" style="font-size:12.55px">Relative Abundance(%)</text>
<rect x="757.1" y="1639.3" width="16.8" height="16.4" fill="#85852A"/>
<text x="780.1" y="1650.7"  fill="#1a1a1a" style="font-size:8.2px;font-style:italic" stroke="#1a1a1a" stroke-width="0.18">Ligilactobacillus</text>
<rect x="757.1" y="1657.1" width="16.8" height="16.4" fill="#B6B46B"/>
<text x="780.1" y="1668.5"  fill="#1a1a1a" style="font-size:8.2px;font-style:italic" stroke="#1a1a1a" stroke-width="0.18">Lactobacillus</text>
<rect x="757.1" y="1674.9" width="16.8" height="16.4" fill="#66FFAA"/>
<text x="780.1" y="1686.3"  fill="#1a1a1a" style="font-size:8.2px;font-style:italic" stroke="#1a1a1a" stroke-width="0.18">Bifidobacterium</text>
<rect x="757.1" y="1692.7" width="16.8" height="16.4" fill="#BB5BE8"/>
<text x="780.1" y="1704.1"  fill="#1a1a1a" style="font-size:8.2px;font-style:italic" stroke="#1a1a1a" stroke-width="0.18">Eubacterium</text>
<rect x="757.1" y="1710.5" width="16.8" height="16.4" fill="#96D6F4"/>
<text x="780.1" y="1721.9"  fill="#1a1a1a" style="font-size:8.2px;font-style:italic" stroke="#1a1a1a" stroke-width="0.18">Acetatifactor</text>
<rect x="757.1" y="1728.3" width="16.8" height="16.4" fill="#55F233"/>
<text x="780.1" y="1739.7"  fill="#1a1a1a" style="font-size:8.2px;font-style:italic" stroke="#1a1a1a" stroke-width="0.18">Faecalibaculum</text>
<rect x="757.1" y="1746.1" width="16.8" height="16.4" fill="#9B26FF"/>
<text x="780.1" y="1757.5"  fill="#1a1a1a" style="font-size:8.2px;font-style:italic" stroke="#1a1a1a" stroke-width="0.18">Olsenella</text>
<rect x="757.1" y="1763.9" width="16.8" height="16.4" fill="#F76BC3"/>
<text x="780.1" y="1775.3"  fill="#1a1a1a" style="font-size:8.2px;font-style:italic" stroke="#1a1a1a" stroke-width="0.18">Ileibacterium</text>
<rect x="757.1" y="1781.7" width="16.8" height="16.4" fill="#2A6F18"/>
<text x="780.1" y="1793.1"  fill="#1a1a1a" style="font-size:8.2px;font-style:italic" stroke="#1a1a1a" stroke-width="0.18">Allobaculum</text>
<rect x="757.1" y="1799.5" width="16.8" height="16.4" fill="#577233"/>
<text x="780.1" y="1810.9"  fill="#1a1a1a" style="font-size:8.2px;font-style:italic" stroke="#1a1a1a" stroke-width="0.18">Lachnoclostridium</text>
<rect x="757.1" y="1817.3" width="16.8" height="16.4" fill="#EBDDB0"/>
<text x="780.1" y="1828.7"  fill="#1a1a1a" style="font-size:8.2px;font-style:italic" stroke="#1a1a1a" stroke-width="0.18">Others</text>
<rect x="250" y="2043.4" width="29.9" height="10.8" fill="#FF2010" stroke="#222" stroke-width="1.1"/>
<text x="291.9" y="2054.2"  fill="#111" style="font-size:16.8px;font-family:'Liberation Serif', serif" stroke="#111" stroke-width="0.2">NC</text>
<rect x="342.9" y="2043.4" width="29.4" height="10.8" fill="#55F03A" stroke="#222" stroke-width="1.1"/>
<text x="384.8" y="2054.2"  fill="#111" style="font-size:16.8px;font-family:'Liberation Serif', serif" stroke="#111" stroke-width="0.2">HFD</text>
<rect x="446.2" y="2043.4" width="30.3" height="10.8" fill="#2A00FF" stroke="#222" stroke-width="1.1"/>
<text x="488.7" y="2054.2"  fill="#111" style="font-size:16.8px;font-family:'Liberation Serif', serif" stroke="#111" stroke-width="0.2">HFD_2MB</text>
<rect x="244.4" y="2071.7" width="502.4" height="11.1" fill="#2A00FF" stroke="#111" stroke-width="1.1"/>
<text x="235.6" y="2080.95"  text-anchor="end" fill="#222" style="font-size:10.5px;font-style:italic" stroke="#222" stroke-width="0.3">g__Faecalibaculum</text>
<rect x="244.4" y="2085.46" width="502.4" height="11.1" fill="#2A00FF" stroke="#111" stroke-width="1.1"/>
<text x="234.1" y="2094.71"  text-anchor="end" fill="#222" style="font-size:10.5px;font-style:italic" stroke="#222" stroke-width="0.3">s__Faecalibaculum_rodentium</text>
<rect x="244.4" y="2099.21" width="427.3" height="11.1" fill="#2A00FF" stroke="#111" stroke-width="1.1"/>
<text x="234.4" y="2108.46"  text-anchor="end" fill="#222" style="font-size:10.5px;font-style:italic" stroke="#222" stroke-width="0.3">s__Lactobacillus_animalis</text>
<rect x="244.4" y="2112.97" width="427.3" height="11.1" fill="#2A00FF" stroke="#111" stroke-width="1.1"/>
<text x="233.2" y="2123.72"  text-anchor="end" fill="#222" style="font-size:10.5px;font-style:italic" stroke="#222" stroke-width="0.3">g__Ligilactobacillus</text>
<rect x="244.4" y="2126.72" width="360.1" height="11.1" fill="#2A00FF" stroke="#111" stroke-width="1.1"/>
<text x="232.9" y="2136.97"  text-anchor="end" fill="#222" style="font-size:10.5px;font-style:italic" stroke="#222" stroke-width="0.3">g__Asaccharobacter</text>
<rect x="244.4" y="2140.48" width="360.1" height="11.1" fill="#2A00FF" stroke="#111" stroke-width="1.1"/>
<text x="235.1" y="2149.73"  text-anchor="end" fill="#222" style="font-size:10.5px;font-style:italic" stroke="#222" stroke-width="0.3">s__Roseburia_hominis</text>
<rect x="244.4" y="2154.24" width="565.4" height="11.1" fill="#55F03A" stroke="#111" stroke-width="1.1"/>
<text x="234.1" y="2164.49"  text-anchor="end" fill="#222" style="font-size:10.5px;font-style:italic" stroke="#222" stroke-width="0.3">s__Clostridium_scindens</text>
<rect x="244.4" y="2167.99" width="560.4" height="11.1" fill="#55F03A" stroke="#111" stroke-width="1.1"/>
<text x="233.2" y="2177.24"  text-anchor="end" fill="#222" style="font-size:10.5px;font-style:italic" stroke="#222" stroke-width="0.3">g__Lachnoclostridium</text>
<rect x="244.4" y="2181.75" width="401" height="11.1" fill="#55F03A" stroke="#111" stroke-width="1.1"/>
<text x="234.6" y="2191"  text-anchor="end" fill="#222" style="font-size:10.5px;font-style:italic" stroke="#222" stroke-width="0.3">s__Lachnoclostridium_phocaeense</text>
<rect x="244.4" y="2195.5" width="391.8" height="11.1" fill="#55F03A" stroke="#111" stroke-width="1.1"/>
<text x="234.14" y="2204.95"  text-anchor="end" fill="#222" style="font-size:10.5px;font-style:italic" stroke="#222" stroke-width="0.3">g__Faecalicatena</text>
<rect x="244.4" y="2209.26" width="388.8" height="11.1" fill="#55F03A" stroke="#111" stroke-width="1.1"/>
<text x="233.24" y="2217.31"  text-anchor="end" fill="#222" style="font-size:10.5px;font-style:italic" stroke="#222" stroke-width="0.3">s__Faecalicatena_orotica</text>
<rect x="244.4" y="2223.02" width="382.6" height="11.1" fill="#55F03A" stroke="#111" stroke-width="1.1"/>
<text x="234.14" y="2232.27"  text-anchor="end" fill="#222" style="font-size:10.5px;font-style:italic" stroke="#222" stroke-width="0.3">s__Faecalimonas_umbilicata</text>
<rect x="244.4" y="2236.77" width="382.6" height="11.1" fill="#55F03A" stroke="#111" stroke-width="1.1"/>
<text x="234.1" y="2246.82"  text-anchor="end" fill="#222" style="font-size:10.5px;font-style:italic" stroke="#222" stroke-width="0.3">g__Faecalimonas</text>
<rect x="244.4" y="2250.53" width="538.9" height="11.1" fill="#FF2010" stroke="#111" stroke-width="1.1"/>
<text x="234.1" y="2260.28"  text-anchor="end" fill="#222" style="font-size:10.5px;font-style:italic" stroke="#222" stroke-width="0.3">s__Allobaculum_stercoricanis</text>
<rect x="244.4" y="2264.28" width="538.9" height="11.1" fill="#FF2010" stroke="#111" stroke-width="1.1"/>
<text x="233.2" y="2273.53"  text-anchor="end" fill="#222" style="font-size:10.5px;font-style:italic" stroke="#222" stroke-width="0.3">g__Allobaculum</text>
<rect x="244.4" y="2278.04" width="460.2" height="11.1" fill="#FF2010" stroke="#111" stroke-width="1.1"/>
<text x="234.1" y="2287.29"  text-anchor="end" fill="#222" style="font-size:10.5px;font-style:italic" stroke="#222" stroke-width="0.3">s__Ruminococcus_gnavus</text>
<rect x="244.4" y="2291.8" width="460.2" height="11.1" fill="#FF2010" stroke="#111" stroke-width="1.1"/>
<text x="231.8" y="2301.05"  text-anchor="end" fill="#222" style="font-size:10.5px;font-style:italic" stroke="#222" stroke-width="0.3">g__Mediterraneibacter</text>
<rect x="244.4" y="2305.55" width="449.2" height="11.1" fill="#FF2010" stroke="#111" stroke-width="1.1"/>
<text x="233.91" y="2315.3"  text-anchor="end" fill="#222" style="font-size:10.5px;font-style:italic" stroke="#222" stroke-width="0.3">s__Lachnoclostridium_edouardi</text>
<rect x="244.4" y="2319.31" width="444.2" height="11.1" fill="#FF2010" stroke="#111" stroke-width="1.1"/>
<text x="234.4" y="2329.56"  text-anchor="end" fill="#222" style="font-size:10.5px;font-style:italic" stroke="#222" stroke-width="0.3">g__Desulfovibrio</text>
<rect x="244.4" y="2333.06" width="439.2" height="11.1" fill="#FF2010" stroke="#111" stroke-width="1.1"/>
<text x="233.6" y="2342.31"  text-anchor="end" fill="#222" style="font-size:10.5px;font-style:italic" stroke="#222" stroke-width="0.3">s__Desulfovibrio_desulfuricans</text>
<rect x="244.4" y="2346.82" width="428.8" height="11.1" fill="#FF2010" stroke="#111" stroke-width="1.1"/>
<text x="235" y="2356.07"  text-anchor="end" fill="#222" style="font-size:10.5px;font-style:italic" stroke="#222" stroke-width="0.3">f__Hungateiclostridiaceae</text>
<rect x="244.4" y="2360.58" width="381.8" height="11.1" fill="#FF2010" stroke="#111" stroke-width="1.1"/>
<text x="232.9" y="2369.83"  text-anchor="end" fill="#222" style="font-size:10.5px;font-style:italic" stroke="#222" stroke-width="0.3">g__Hungateiclostridium</text>
<rect x="244.4" y="2374.33" width="375.3" height="11.1" fill="#FF2010" stroke="#111" stroke-width="1.1"/>
<text x="232.9" y="2383.58"  text-anchor="end" fill="#222" style="font-size:10.5px;font-style:italic" stroke="#222" stroke-width="0.3">g__Anaerobacterium</text>
<rect x="244.4" y="2388.09" width="375.3" height="11.1" fill="#FF2010" stroke="#111" stroke-width="1.1"/>
<text x="233.6" y="2397.34"  text-anchor="end" fill="#222" style="font-size:10.5px;font-style:italic" stroke="#222" stroke-width="0.3">s__Anaerobacterium_chartisolvens</text>
<rect x="244.4" y="2401.84" width="373.6" height="11.1" fill="#FF2010" stroke="#111" stroke-width="1.1"/>
<text x="233.2" y="2412.09"  text-anchor="end" fill="#222" style="font-size:10.5px;font-style:italic" stroke="#222" stroke-width="0.3">f__Clostridiales_Family_XIII__Incertae_Sedis</text>
<rect x="244.4" y="2415.6" width="361.8" height="11.1" fill="#FF2010" stroke="#111" stroke-width="1.1"/>
<text x="232.6" y="2426.35"  text-anchor="end" fill="#222" style="font-size:10.5px;font-style:italic" stroke="#222" stroke-width="0.3">s__Hungateiclostridium_thermocellum</text>
<rect x="244.4" y="2429.36" width="360.3" height="11.1" fill="#FF2010" stroke="#111" stroke-width="1.1"/>
<text x="233.24" y="2438.61"  text-anchor="end" fill="#222" style="font-size:10.5px;font-style:italic" stroke="#222" stroke-width="0.3">s__Aminipila_butyrica</text>
<rect x="244.4" y="2443.11" width="360.3" height="11.1" fill="#FF2010" stroke="#111" stroke-width="1.1"/>
<text x="233.24" y="2452.36"  text-anchor="end" fill="#222" style="font-size:10.5px;font-style:italic" stroke="#222" stroke-width="0.3">g__Aminipila</text>
<line x1="356.3" y1="2068" x2="356.3" y2="2457" stroke="#555" stroke-width="1" stroke-dasharray="1.4 2.7"/>
<line x1="468.2" y1="2068" x2="468.2" y2="2457" stroke="#555" stroke-width="1" stroke-dasharray="1.4 2.7"/>
<line x1="580.1" y1="2068" x2="580.1" y2="2457" stroke="#555" stroke-width="1" stroke-dasharray="1.4 2.7"/>
<line x1="692" y1="2068" x2="692" y2="2457" stroke="#555" stroke-width="1" stroke-dasharray="1.4 2.7"/>
<line x1="803.9" y1="2068" x2="803.9" y2="2457" stroke="#555" stroke-width="1" stroke-dasharray="1.4 2.7"/>
<line x1="915.8" y1="2068" x2="915.8" y2="2457" stroke="#555" stroke-width="1" stroke-dasharray="1.4 2.7"/>
<line x1="244.4" y1="2063.4" x2="244.4" y2="2067.8" stroke="#777" stroke-width="1.1"/>
<line x1="244.4" y1="2457.3" x2="244.4" y2="2462.3" stroke="#777" stroke-width="1.1"/>
<text x="245" y="2476.9"  text-anchor="middle" fill="#111" style="font-size:13.6px;font-family:'Liberation Serif', serif" stroke="#111" stroke-width="0.3">0</text>
<line x1="356.3" y1="2063.4" x2="356.3" y2="2067.8" stroke="#777" stroke-width="1.1"/>
<line x1="356.3" y1="2457.3" x2="356.3" y2="2462.3" stroke="#777" stroke-width="1.1"/>
<text x="356.9" y="2476.9"  text-anchor="middle" fill="#111" style="font-size:13.6px;font-family:'Liberation Serif', serif" stroke="#111" stroke-width="0.3">1</text>
<line x1="468.2" y1="2063.4" x2="468.2" y2="2067.8" stroke="#777" stroke-width="1.1"/>
<line x1="468.2" y1="2457.3" x2="468.2" y2="2462.3" stroke="#777" stroke-width="1.1"/>
<text x="468.8" y="2476.9"  text-anchor="middle" fill="#111" style="font-size:13.6px;font-family:'Liberation Serif', serif" stroke="#111" stroke-width="0.3">2</text>
<line x1="580.1" y1="2063.4" x2="580.1" y2="2067.8" stroke="#777" stroke-width="1.1"/>
<line x1="580.1" y1="2457.3" x2="580.1" y2="2462.3" stroke="#777" stroke-width="1.1"/>
<text x="580.7" y="2476.9"  text-anchor="middle" fill="#111" style="font-size:13.6px;font-family:'Liberation Serif', serif" stroke="#111" stroke-width="0.3">3</text>
<line x1="692" y1="2063.4" x2="692" y2="2067.8" stroke="#777" stroke-width="1.1"/>
<line x1="692" y1="2457.3" x2="692" y2="2462.3" stroke="#777" stroke-width="1.1"/>
<text x="692.6" y="2476.9"  text-anchor="middle" fill="#111" style="font-size:13.6px;font-family:'Liberation Serif', serif" stroke="#111" stroke-width="0.3">4</text>
<line x1="803.9" y1="2063.4" x2="803.9" y2="2067.8" stroke="#777" stroke-width="1.1"/>
<line x1="803.9" y1="2457.3" x2="803.9" y2="2462.3" stroke="#777" stroke-width="1.1"/>
<text x="804.5" y="2476.9"  text-anchor="middle" fill="#111" style="font-size:13.6px;font-family:'Liberation Serif', serif" stroke="#111" stroke-width="0.3">5</text>
<line x1="915.8" y1="2063.4" x2="915.8" y2="2067.8" stroke="#777" stroke-width="1.1"/>
<line x1="915.8" y1="2457.3" x2="915.8" y2="2462.3" stroke="#777" stroke-width="1.1"/>
<text x="916.4" y="2476.9"  text-anchor="middle" fill="#111" style="font-size:13.6px;font-family:'Liberation Serif', serif" stroke="#111" stroke-width="0.3">6</text>
<text x="580.5" y="2494"  text-anchor="middle" fill="#111" style="font-size:14.2px;font-family:'Liberation Serif', serif" textLength="130.4" lengthAdjust="spacingAndGlyphs" stroke="#111" stroke-width="0.25">LDA SCORE (log 10)</text>
</svg>
</body></html>
